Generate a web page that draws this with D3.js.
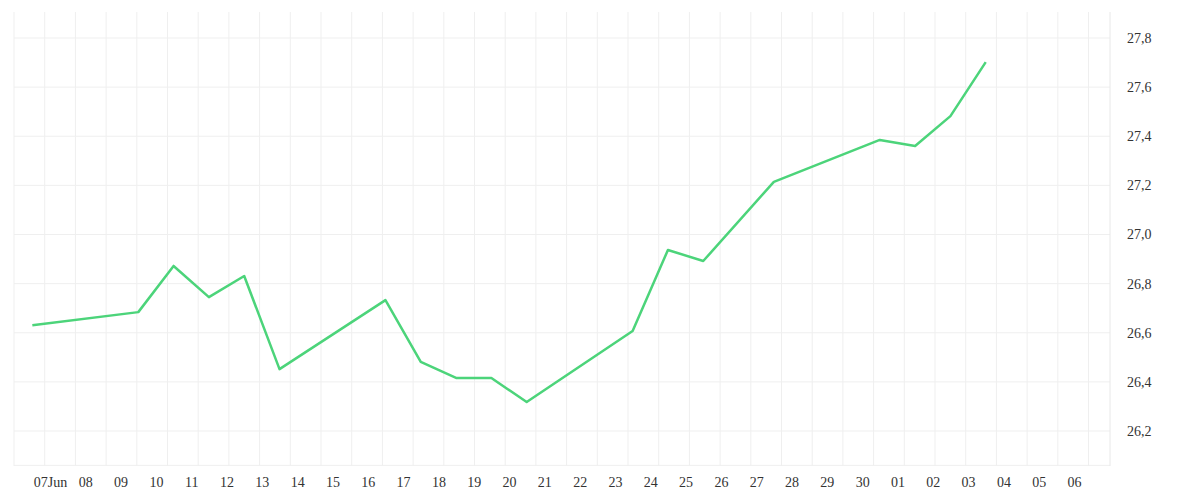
<!DOCTYPE html><html><head><meta charset="utf-8"><script src="https://cdn.jsdelivr.net/npm/d3@7"></script>
<style>body{margin:0;background:#fff}</style></head><body><svg id="c" width="1200" height="500"></svg><script>
const dayLabels=["07Jun","08","09","10","11","12","13","14","15","16","17","18","19","20","21","22","23","24","25","26","27","28","29","30","01","02","03","04","05","06"];
const pointDays=[-0.5,2.5,3.5,4.5,5.5,6.5,9.5,10.5,11.5,12.5,13.5,16.5,17.5,18.5,20.5,23.5,24.5,25.5,26.5];
const values=[26.631,26.684,26.872,26.745,26.831,26.452,26.733,26.481,26.416,26.416,26.318,26.607,26.937,26.892,27.214,27.385,27.360,27.482,27.702];
const yTicks=[26.2,26.4,26.6,26.8,27.0,27.2,27.4,27.6,27.8];
const svg=d3.select("#c");
const L=14,R=1110,T=12,B=466;
const x=d3.scaleLinear().domain([0,29]).range([50,1074]);
const y=d3.scaleLinear().domain([26.2,27.8]).range([431,38]);
const g=svg.append("g");
// vertical grid
const gx=d3.scaleLinear().domain([0,35.7]).range([L,R]);
d3.range(0,36).forEach(i=>{g.append("line").attr("x1",gx(i)).attr("x2",gx(i)).attr("y1",T).attr("y2",B).attr("stroke","#efefef");});
yTicks.concat([26.06]).forEach(v=>{g.append("line").attr("x1",L).attr("x2",R).attr("y1",y(v)).attr("y2",y(v)).attr("stroke","#efefef");});
g.append("line").attr("x1",R).attr("x2",R).attr("y1",T).attr("y2",B).attr("stroke","#e8e8e8");
const ya=svg.append("g").attr("transform",`translate(${R},0)`).call(d3.axisRight(y).tickValues(yTicks).tickSize(0).tickPadding(17).tickFormat(d=>d3.format(".1f")(d).replace(".",",")));
ya.select(".domain").remove();
ya.selectAll("text").attr("font-family","Liberation Serif, serif").attr("font-size",14).attr("fill","#333");
const xa=svg.append("g").attr("transform",`translate(0,${B})`).call(d3.axisBottom(x).tickValues(d3.range(30)).tickSize(0).tickPadding(11).tickFormat(i=>dayLabels[i]));
xa.select(".domain").remove();
xa.selectAll("text").attr("font-family","Liberation Serif, serif").attr("font-size",14).attr("fill","#333");
const line=d3.line().x((d,i)=>x(pointDays[i])).y(d=>y(d));
svg.append("path").datum(values).attr("d",line).attr("fill","none").attr("stroke","#4cd47a").attr("stroke-width",2.5).attr("stroke-linejoin","round");
</script></body></html>
